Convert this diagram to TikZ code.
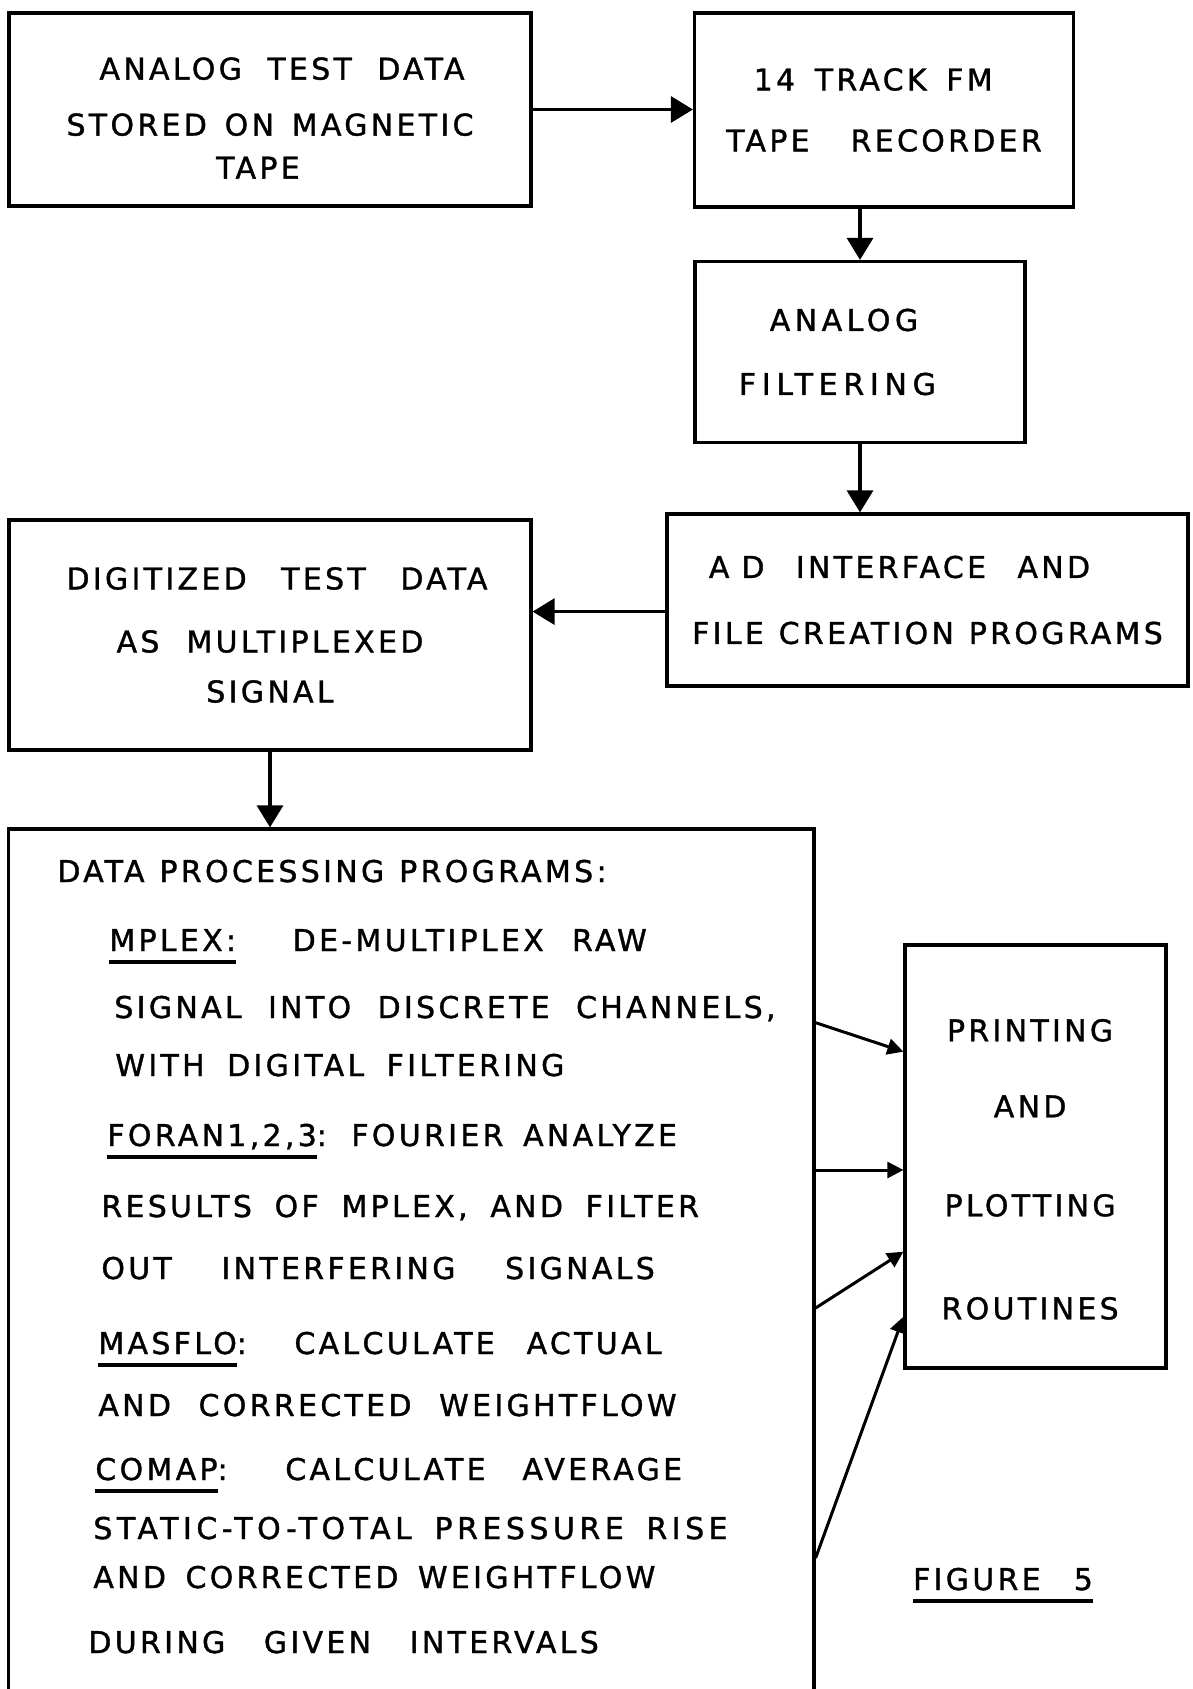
\documentclass[tikz,border=0pt]{standalone}
\usepackage{fontspec}
\usetikzlibrary{arrows.meta}
\newfontfamily\lettering{DejaVu Sans}[LetterSpace=11,WordSpace=1.6,FakeBold=1.2]
\newcommand\progname[1]{\setbox0\hbox{#1}\rlap{\rule[-6.6pt]{\wd0}{2pt}}\box0}
\newcommand\spread[2]{\makebox[#1][s]{#2}}
\newcommand\wider[2]{{\addfontfeature{LetterSpace=#1}#2}}

\begin{document}
\begin{tikzpicture}[x=0.5pt, y=-0.5pt,
    box/.style={rectangle, draw, line width=1.6pt, inner sep=0pt, align=center, font=\lettering\fontsize{15}{18}\selectfont},
    txt/.style={anchor=base west, inner sep=0pt, font=\lettering\fontsize{15}{18}\selectfont},
    arr/.style={-{Triangle[length=11pt, width=13pt]}, line width=1.6pt},
    sarr/.style={-{Triangle[length=8pt, width=8pt]}, line width=1.5pt},
  ]
    \useasboundingbox (0,0) rectangle (1192,1689);

    % upper chain
    \node[box, minimum width=261pt, minimum height=96.5pt] (tape) at (270,109.5) {\rule{0pt}{19.6pt}\hspace{12pt}\spread{182.5pt}{ANALOG TEST DATA}\\[10pt] \spread{203.5pt}{STORED ON MAGNETIC}\\[3.5pt] \hspace{-12pt}TAPE};
    \node[box, minimum width=189.5pt, minimum height=97pt] (rec) at (884,110) {\hspace{-10.8pt}\spread{119.5pt}{14 TRACK FM}\\[12.5pt] \spread{157.8pt}{TAPE RECORDER}};
    \node[box, minimum width=165pt, minimum height=90.5pt] (filt) at (860,352) {\hspace{-16pt}\wider{15}{ANALOG}\\[14pt] \hspace{-22.6pt}\wider{19}{FILTERING}};
    \node[box, minimum width=260.5pt, minimum height=86pt] (adif) at (927.5,600) {\hspace{-28pt}\spread{190.6pt}{A\hspace{6pt}D INTERFACE AND}\\[15pt] \spread{235.3pt}{FILE CREATION PROGRAMS}};
    \node[box, minimum width=261pt, minimum height=115pt] (dig) at (270,635) {\hspace{7pt}\spread{210.5pt}{DIGITIZED TEST DATA}\\[13.5pt] \spread{153.4pt}{AS MULTIPLEXED}\\[7pt] SIGNAL};

    % processing and output
    \node[box, minimum width=402.7pt, minimum height=445.5pt] (proc) at (411.3,1274.5) {};
    \node[box, minimum width=130.5pt, minimum height=211.5pt] (print) at (1035.5,1156.5) {\rule{0pt}{24pt}\hspace{-5.4pt}PRINTING\\[20pt] \hspace{-5.4pt}AND\\[31.5pt] \hspace{-5.4pt}PLOTTING\\[33.5pt] \hspace{-5.4pt}ROUTINES};

    \node[txt] (hdr) at (57,882) {\spread{274.6pt}{DATA PROCESSING PROGRAMS:}};
    \node[txt] (mplexa) at (109,951) {\spread{268.7pt}{\progname{MPLEX:}\ \ DE-MULTIPLEX RAW}};
    \node[txt] (mplexb) at (114,1018) {\spread{330.6pt}{SIGNAL INTO DISCRETE CHANNELS,}};
    \node[txt] (mplexc) at (115,1076) {\spread{224.5pt}{WITH DIGITAL FILTERING}};
    \node[txt] (forana) at (107,1146) {\spread{284.8pt}{\progname{FORAN1,2,3}: FOURIER ANALYZE}};
    \node[txt] (foranb) at (101,1217) {\spread{298.8pt}{RESULTS OF MPLEX, AND FILTER}};
    \node[txt] (foranc) at (101,1279) {\spread{276.7pt}{OUT INTERFERING SIGNALS}};
    \node[txt] (masfloa) at (98,1354) {\spread{281.6pt}{\progname{MASFLO}: CALCULATE ACTUAL}};
    \node[txt] (masflob) at (98,1416) {\spread{289.1pt}{AND CORRECTED WEIGHTFLOW}};
    \node[txt] (comapa) at (95,1480) {\spread{293.4pt}{\progname{COMAP}: CALCULATE AVERAGE}};
    \node[txt] (comapb) at (93,1539) {\wider{15}{\spread{317.1pt}{STATIC-TO-TOTAL PRESSURE RISE}}};
    \node[txt] (comapc) at (93,1588) {\spread{281pt}{AND CORRECTED WEIGHTFLOW}};
    \node[txt] (during) at (88,1653) {\spread{255.2pt}{DURING GIVEN INTERVALS}};

    \node[txt, anchor=base] (fig) at (1003,1590) {\progname{\spread{89.9pt}{FIGURE 5}}};

    \draw[arr] (tape.east) -- (tape.east -| rec.west);
    \draw[arr] (filt.north |- rec.south) -- (filt.north);
    \draw[arr] (filt.south) -- (filt.south |- adif.north);
    \draw[arr] ([yshift=-5.8pt]adif.west) -- ([yshift=-5.8pt]adif.west -| dig.east);
    \draw[arr] (dig.south) -- (dig.south |- proc.north);

    \draw[sarr] (proc.east |- 0,1022.7) -- (print.west |- 0,1051.7);
    \draw[sarr] (proc.east |- 0,1170) -- (print.west |- 0,1170);
    \draw[sarr] (proc.east |- 0,1308) -- (print.west |- 0,1251.7);
    \draw[sarr] (proc.east |- 0,1558) -- (print.west |- 0,1316.7);
  \end{tikzpicture}
\end{document}
